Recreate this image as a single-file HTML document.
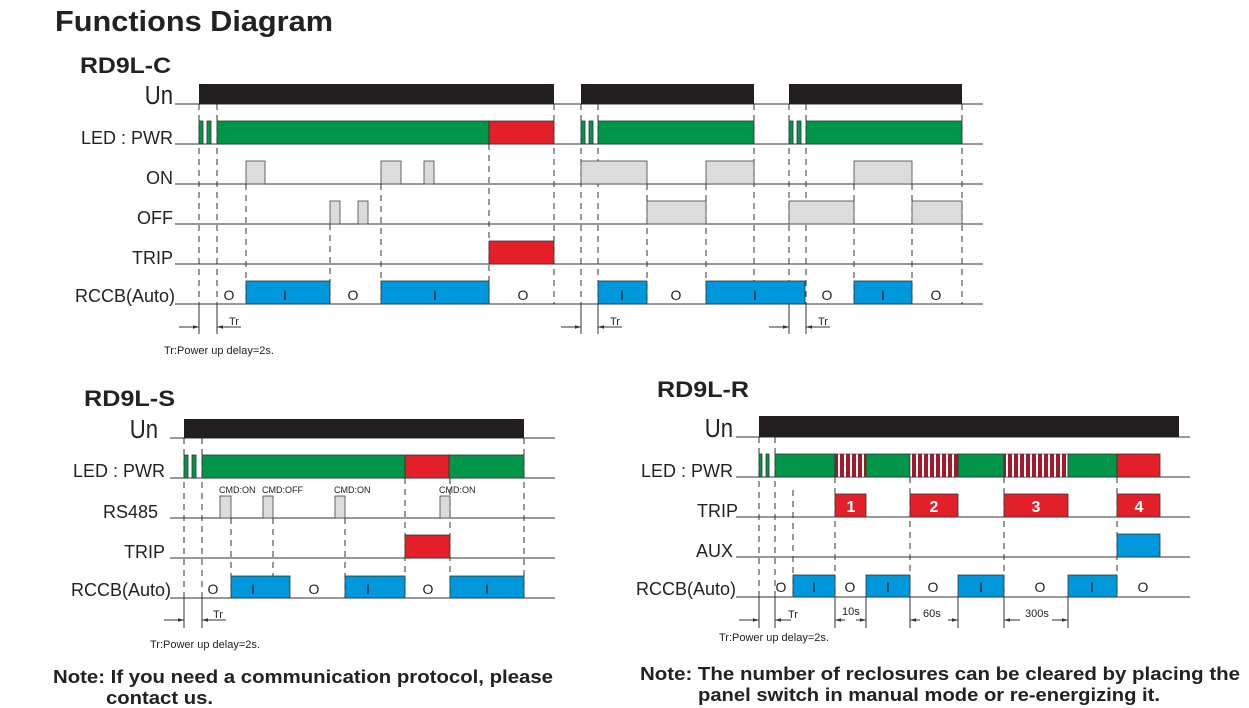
<!DOCTYPE html>
<html><head><meta charset="utf-8"><style>
html,body{margin:0;padding:0;background:#fff;width:1249px;height:708px;overflow:hidden}
svg{display:block;font-family:"Liberation Sans",sans-serif}
.l{fill:#222;font-size:18px;text-anchor:end}
.ax{stroke:#333;stroke-width:1}
.d{stroke:#333;stroke-width:1;stroke-dasharray:6,5}
.v{stroke:#333;stroke-width:1}
.k{fill:#231f20}
.g{fill:#00964a;stroke:#333;stroke-width:.8}
.r{fill:#e3202a;stroke:#333;stroke-width:.8}
.b{fill:#0098dd;stroke:#333;stroke-width:.8}
.y{fill:#dcdcdc;stroke:#444;stroke-width:.8}
.s{fill:url(#st);stroke:#333;stroke-width:.6}
.o{fill:#222;font-size:14px;text-anchor:middle}
.t{fill:#222;font-size:11px}
.c{fill:#222;font-size:9px}
.n{fill:#fff;font-size:16px;font-weight:bold;text-anchor:middle}
</style></head><body>
<svg width="1249" height="708" viewBox="0 0 1249 708">
<defs><pattern id="st" width="6" height="10" patternUnits="userSpaceOnUse"><rect width="6" height="10" fill="#fff"/><rect width="4" height="10" fill="#a3182a"/></pattern>
<marker id="a" viewBox="0 0 10 10" refX="10" refY="5" markerWidth="6" markerHeight="6" orient="auto"><path d="M0,2L10,5L0,8z" fill="#333"/></marker></defs>
<text x="55" y="31" style="font-size:29px;font-weight:bold" fill="#222" textLength="278" lengthAdjust="spacingAndGlyphs">Functions Diagram</text>
<text x="80" y="73" style="font-size:22px;font-weight:bold" fill="#222" textLength="91" lengthAdjust="spacingAndGlyphs">RD9L-C</text>
<text x="84" y="406" style="font-size:22px;font-weight:bold" fill="#222" textLength="91" lengthAdjust="spacingAndGlyphs">RD9L-S</text>
<text x="657" y="397" style="font-size:22px;font-weight:bold" fill="#222" textLength="92" lengthAdjust="spacingAndGlyphs">RD9L-R</text>

<!-- ===== C ===== -->
<text class="l" x="173" y="104" style="font-size:26px" transform="translate(173 104) scale(.85 1) translate(-173 -104)">Un</text>
<text class="l" x="173" y="144">LED : PWR</text>
<text class="l" x="173" y="184">ON</text>
<text class="l" x="173" y="224">OFF</text>
<text class="l" x="173" y="264">TRIP</text>
<text class="l" x="175" y="302">RCCB(Auto)</text>
<g class="ax"><line x1="175" y1="104" x2="983" y2="104"/><line x1="175" y1="144" x2="983" y2="144"/><line x1="175" y1="184" x2="983" y2="184"/><line x1="175" y1="224" x2="983" y2="224"/><line x1="175" y1="264" x2="983" y2="264"/><line x1="175" y1="304" x2="983" y2="304"/></g>
<g class="d">
<line x1="199" y1="104" x2="199" y2="304"/><line x1="217" y1="104" x2="217" y2="304"/><line x1="246" y1="184" x2="246" y2="304"/><line x1="330" y1="224" x2="330" y2="304"/><line x1="381" y1="184" x2="381" y2="304"/><line x1="489" y1="144" x2="489" y2="304"/><line x1="554" y1="104" x2="554" y2="304"/>
<line x1="581" y1="104" x2="581" y2="304"/><line x1="598" y1="104" x2="598" y2="304"/><line x1="647" y1="184" x2="647" y2="304"/><line x1="706" y1="184" x2="706" y2="304"/><line x1="754" y1="104" x2="754" y2="304"/>
<line x1="789" y1="104" x2="789" y2="304"/><line x1="806" y1="104" x2="806" y2="304"/><line x1="854" y1="184" x2="854" y2="304"/><line x1="912" y1="184" x2="912" y2="304"/><line x1="962" y1="104" x2="962" y2="304"/>
</g>
<rect class="k" x="199" y="84" width="355" height="20"/><rect class="k" x="581" y="84" width="173" height="20"/><rect class="k" x="789" y="84" width="173" height="20"/>
<rect class="g" x="199" y="121" width="4" height="23"/><rect class="g" x="207" y="121" width="4" height="23"/><rect class="g" x="217" y="121" width="272" height="23"/><rect class="r" x="489" y="121" width="65" height="23"/>
<rect class="g" x="581" y="121" width="4" height="23"/><rect class="g" x="589" y="121" width="4" height="23"/><rect class="g" x="598" y="121" width="156" height="23"/>
<rect class="g" x="789" y="121" width="4" height="23"/><rect class="g" x="797" y="121" width="4" height="23"/><rect class="g" x="806" y="121" width="156" height="23"/>
<rect class="y" x="246" y="161" width="19" height="23"/><rect class="y" x="381" y="161" width="20" height="23"/><rect class="y" x="424" y="161" width="10" height="23"/>
<rect class="y" x="581" y="161" width="66" height="23"/><rect class="y" x="706" y="161" width="48" height="23"/><rect class="y" x="854" y="161" width="58" height="23"/>
<rect class="y" x="330" y="201" width="10" height="23"/><rect class="y" x="358" y="201" width="10" height="23"/>
<rect class="y" x="647" y="201" width="59" height="23"/><rect class="y" x="789" y="201" width="65" height="23"/><rect class="y" x="912" y="201" width="50" height="23"/>
<rect class="r" x="489" y="241" width="65" height="23"/>
<rect class="b" x="246" y="281" width="84" height="23"/><rect class="b" x="381" y="281" width="108" height="23"/><rect class="b" x="598" y="281" width="49" height="23"/><rect class="b" x="706" y="281" width="99" height="23"/><rect class="b" x="854" y="281" width="58" height="23"/>
<g class="o"><text x="229" y="300">O</text><text x="353" y="300">O</text><text x="523" y="300">O</text><text x="676" y="300">O</text><text x="827" y="300">O</text><text x="936" y="300">O</text>
<text x="285" y="300">I</text><text x="435" y="300">I</text><text x="622" y="300">I</text><text x="755" y="300">I</text><text x="883" y="300">I</text></g>
<g class="v"><line x1="199" y1="304" x2="199" y2="334"/><line x1="217" y1="304" x2="217" y2="334"/><line x1="179" y1="327" x2="199" y2="327" marker-end="url(#a)"/><line x1="241" y1="327" x2="217" y2="327" marker-end="url(#a)"/>
<line x1="581" y1="304" x2="581" y2="334"/><line x1="598" y1="304" x2="598" y2="334"/><line x1="561" y1="327" x2="581" y2="327" marker-end="url(#a)"/><line x1="622" y1="327" x2="598" y2="327" marker-end="url(#a)"/>
<line x1="789" y1="304" x2="789" y2="334"/><line x1="806" y1="304" x2="806" y2="334"/><line x1="769" y1="327" x2="789" y2="327" marker-end="url(#a)"/><line x1="830" y1="327" x2="806" y2="327" marker-end="url(#a)"/></g>
<text class="t" x="229" y="325">Tr</text><text class="t" x="610" y="325">Tr</text><text class="t" x="818" y="325">Tr</text>
<text class="t" x="164" y="354">Tr:Power up delay=2s.</text>

<!-- ===== S ===== -->
<text class="l" x="158" y="438" style="font-size:26px" transform="translate(158 438) scale(.85 1) translate(-158 -438)">Un</text>
<text class="l" x="165" y="477">LED : PWR</text>
<text class="l" x="158" y="518">RS485</text>
<text class="l" x="165" y="558">TRIP</text>
<text class="l" x="171" y="596">RCCB(Auto)</text>
<g class="ax"><line x1="170" y1="438" x2="555" y2="438"/><line x1="170" y1="478" x2="555" y2="478"/><line x1="170" y1="518" x2="555" y2="518"/><line x1="170" y1="558" x2="555" y2="558"/><line x1="170" y1="598" x2="555" y2="598"/></g>
<g class="d"><line x1="184" y1="438" x2="184" y2="598"/><line x1="202" y1="438" x2="202" y2="598"/><line x1="231" y1="518" x2="231" y2="598"/><line x1="273" y1="518" x2="273" y2="598"/><line x1="345" y1="518" x2="345" y2="598"/><line x1="405" y1="478" x2="405" y2="598"/><line x1="450" y1="478" x2="450" y2="598"/><line x1="524" y1="438" x2="524" y2="598"/></g>
<rect class="k" x="184" y="419" width="340" height="19"/>
<rect class="g" x="184" y="455" width="4" height="23"/><rect class="g" x="192" y="455" width="4" height="23"/><rect class="g" x="202" y="455" width="203" height="23"/><rect class="r" x="405" y="455" width="44" height="23"/><rect class="g" x="449" y="455" width="75" height="23"/>
<rect class="y" x="220" y="496" width="11" height="22"/><rect class="y" x="263" y="496" width="10" height="22"/><rect class="y" x="335" y="496" width="10" height="22"/><rect class="y" x="440" y="496" width="10" height="22"/>
<g class="c"><text x="219" y="493">CMD:ON</text><text x="262" y="493">CMD:OFF</text><text x="334" y="493">CMD:ON</text><text x="439" y="493">CMD:ON</text></g>
<rect class="r" x="405" y="535" width="45" height="23"/>
<rect class="b" x="231" y="576" width="59" height="22"/><rect class="b" x="345" y="576" width="60" height="22"/><rect class="b" x="450" y="576" width="74" height="22"/>
<g class="o"><text x="213" y="594">O</text><text x="314" y="594">O</text><text x="428" y="594">O</text><text x="253" y="594">I</text><text x="368" y="594">I</text><text x="487" y="594">I</text></g>
<g class="v"><line x1="184" y1="598" x2="184" y2="628"/><line x1="202" y1="598" x2="202" y2="628"/><line x1="164" y1="620" x2="184" y2="620" marker-end="url(#a)"/><line x1="226" y1="620" x2="202" y2="620" marker-end="url(#a)"/></g>
<text class="t" x="213" y="618">Tr</text>
<text class="t" x="150" y="648">Tr:Power up delay=2s.</text>

<!-- ===== R ===== -->
<text class="l" x="733" y="437" style="font-size:26px" transform="translate(733 437) scale(.85 1) translate(-733 -437)">Un</text>
<text class="l" x="733" y="477">LED : PWR</text>
<text class="l" x="738" y="517">TRIP</text>
<text class="l" x="733" y="557">AUX</text>
<text class="l" x="736" y="595">RCCB(Auto)</text>
<g class="ax"><line x1="736" y1="437" x2="1190" y2="437"/><line x1="736" y1="477" x2="1190" y2="477"/><line x1="736" y1="517" x2="1190" y2="517"/><line x1="736" y1="557" x2="1190" y2="557"/><line x1="736" y1="597" x2="1190" y2="597"/></g>
<g class="d"><line x1="759" y1="437" x2="759" y2="597"/><line x1="775" y1="437" x2="775" y2="597"/><line x1="793" y1="490" x2="793" y2="597"/><line x1="835" y1="477" x2="835" y2="597"/><line x1="910" y1="477" x2="910" y2="597"/><line x1="1004" y1="477" x2="1004" y2="597"/><line x1="1117" y1="477" x2="1117" y2="597"/></g>
<rect class="k" x="759" y="416" width="420" height="21"/>
<rect class="g" x="759" y="454" width="3" height="23"/><rect class="g" x="766" y="454" width="3" height="23"/><rect class="g" x="775" y="454" width="60" height="23"/>
<rect class="s" x="835" y="454" width="31" height="23"/><rect class="g" x="866" y="454" width="44" height="23"/>
<rect class="s" x="910" y="454" width="48" height="23"/><rect class="g" x="958" y="454" width="46" height="23"/>
<rect class="s" x="1004" y="454" width="64" height="23"/><rect class="g" x="1068" y="454" width="49" height="23"/><rect class="r" x="1117" y="454" width="43" height="23"/>
<rect class="r" x="835" y="494" width="31" height="23"/><rect class="r" x="910" y="494" width="48" height="23"/><rect class="r" x="1004" y="494" width="64" height="23"/><rect class="r" x="1117" y="494" width="43" height="23"/>
<text class="n" x="851" y="512">1</text><text class="n" x="934" y="512">2</text><text class="n" x="1036" y="512">3</text><text class="n" x="1139" y="512">4</text>
<rect class="b" x="1117" y="534" width="43" height="23"/>
<rect class="b" x="793" y="575" width="42" height="22"/><rect class="b" x="866" y="575" width="44" height="22"/><rect class="b" x="958" y="575" width="46" height="22"/><rect class="b" x="1068" y="575" width="49" height="22"/>
<g class="o"><text x="781" y="592">O</text><text x="850" y="592">O</text><text x="933" y="592">O</text><text x="1040" y="592">O</text><text x="1143" y="592">O</text>
<text x="814" y="592">I</text><text x="888" y="592">I</text><text x="981" y="592">I</text><text x="1092" y="592">I</text></g>
<g class="v"><line x1="759" y1="597" x2="759" y2="628"/><line x1="775" y1="597" x2="775" y2="628"/><line x1="739" y1="620" x2="759" y2="620" marker-end="url(#a)"/><line x1="791" y1="620" x2="775" y2="620" marker-end="url(#a)"/>
<line x1="835" y1="597" x2="835" y2="628"/><line x1="866" y1="597" x2="866" y2="628"/><line x1="845" y1="620" x2="835" y2="620" marker-end="url(#a)"/><line x1="856" y1="620" x2="866" y2="620" marker-end="url(#a)"/>
<line x1="910" y1="597" x2="910" y2="628"/><line x1="958" y1="597" x2="958" y2="628"/><line x1="920" y1="620" x2="910" y2="620" marker-end="url(#a)"/><line x1="948" y1="620" x2="958" y2="620" marker-end="url(#a)"/>
<line x1="1004" y1="597" x2="1004" y2="628"/><line x1="1068" y1="597" x2="1068" y2="628"/><line x1="1020" y1="620" x2="1004" y2="620" marker-end="url(#a)"/><line x1="1052" y1="620" x2="1068" y2="620" marker-end="url(#a)"/></g>
<text class="t" x="788" y="618">Tr</text><text class="t" x="842" y="615">10s</text><text class="t" x="923" y="617">60s</text><text class="t" x="1025" y="617">300s</text>
<text class="t" x="719" y="641">Tr:Power up delay=2s.</text>

<text x="53" y="683" style="font-size:18px;font-weight:bold" fill="#222" textLength="500" lengthAdjust="spacingAndGlyphs">Note: If you need a communication protocol, please</text>
<text x="106" y="704" style="font-size:18px;font-weight:bold" fill="#222" textLength="107" lengthAdjust="spacingAndGlyphs">contact us.</text>
<text x="640" y="680" style="font-size:18px;font-weight:bold" fill="#222" textLength="600" lengthAdjust="spacingAndGlyphs">Note: The number of reclosures can be cleared by placing  the</text>
<text x="698" y="701" style="font-size:18px;font-weight:bold" fill="#222" textLength="462" lengthAdjust="spacingAndGlyphs">panel switch in manual mode or re-energizing it.</text>
</svg>
</body></html>
